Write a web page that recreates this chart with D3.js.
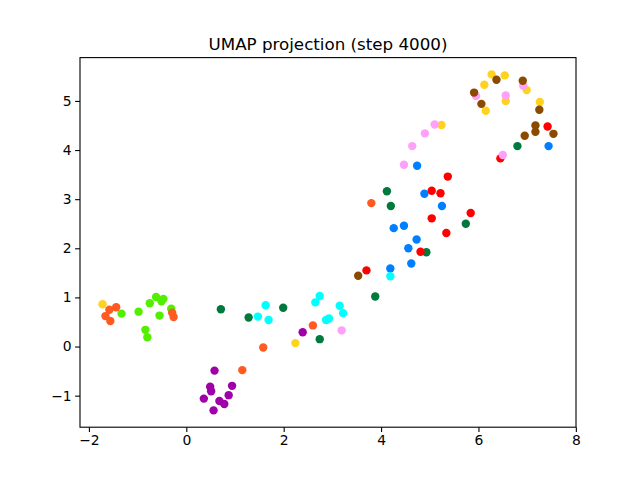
<!DOCTYPE html>
<html>
<head>
<script src="https://cdn.jsdelivr.net/npm/d3@7/dist/d3.min.js"></script>
<style>
body{margin:0;background:white;}
text{font-family:"DejaVu Sans",sans-serif;}
</style>
</head>
<body>
<div id="chart"></div>
<script>
// points per class: [x, y]
var yellow = [[-1.72,0.86],[2.24,0.07],[5.24,4.51],[6.15,4.80],[6.27,5.54],[6.54,5.52],[6.12,5.33],[6.99,5.22],[6.56,5.00],[7.26,4.98]]
var green = [[-1.33,0.67],[-0.98,0.71],[-0.75,0.88],[-0.62,1.01],[-0.47,0.97],[-0.51,0.92],[-0.55,0.63],[-0.31,0.77],[-0.84,0.34],[-0.80,0.19]]
var orange = [[-1.58,0.75],[-1.44,0.80],[-1.66,0.62],[-1.56,0.52],[-0.29,0.69],[-0.26,0.60],[2.60,0.43],[1.58,-0.02],[1.15,-0.48],[3.80,2.92]]
var darkgreen = [[0.71,0.76],[1.28,0.59],[1.99,0.79],[2.74,0.15],[4.12,3.16],[4.20,2.86],[4.93,1.92],[5.74,2.50],[3.88,1.02],[6.80,4.08]]
var blue = [[4.74,3.68],[4.89,3.11],[5.25,2.86],[4.26,2.41],[4.47,2.46],[4.73,2.18],[4.56,2.00],[4.62,1.69],[4.19,1.59],[7.44,4.08]]
var red = [[5.37,3.46],[5.04,3.17],[5.22,3.12],[5.04,2.61],[5.34,2.31],[4.81,1.93],[3.70,1.55],[5.84,2.72],[7.42,4.48],[6.45,3.83]]
var cyan = [[1.63,0.84],[1.47,0.61],[1.69,0.54],[2.74,1.03],[2.65,0.90],[3.15,0.83],[3.22,0.68],[2.87,0.54],[2.93,0.57],[4.19,1.43]]
var purple = [[2.39,0.29],[0.58,-0.49],[0.49,-0.82],[0.51,-0.91],[0.94,-0.80],[0.36,-1.06],[0.87,-0.99],[0.68,-1.11],[0.78,-1.17],[0.56,-1.30]]
var pink = [[3.19,0.33],[4.47,3.70],[4.64,4.08],[4.90,4.34],[5.10,4.52],[6.92,5.31],[5.95,5.10],[6.56,5.11],[6.50,3.90]]
var brown = [[3.53,1.44],[6.06,4.94],[6.37,5.43],[6.91,5.41],[5.91,5.17],[7.25,4.82],[7.17,4.50],[7.17,4.37],[7.54,4.33],[6.95,4.29]]

var groups = [yellow,green,orange,darkgreen,blue,red,cyan,purple,pink,brown]
var colors = ["#ffd21e","#52ef00","#ff5a22","#00793d","#0080ff","#ff0000","#00ffff","#a000aa","#ffa0fa","#8a4a00"]
var xTicks = [-2,0,2,4,6,8]
var yTicks = [-1,0,1,2,3,4,5]
var title = "UMAP projection (step 4000)"

var W = 640, H = 480
var mLeft = 80, mRight = 576, mTop = 57.6, mBottom = 427.2

var all = [].concat.apply([], groups)
var xExt = d3.extent(all, function(d){return d[0]})
var yExt = d3.extent(all, function(d){return d[1]})
var xPad = (xExt[1]-xExt[0])*0.05
var yPad = (yExt[1]-yExt[0])*0.05

var x = d3.scaleLinear().domain([xExt[0]-xPad, xExt[1]+xPad]).range([mLeft,mRight])
var y = d3.scaleLinear().domain([yExt[0]-yPad, yExt[1]+yPad]).range([mBottom,mTop])

var svg = d3.select("#chart").append("svg")
.attr("width",W)
.attr("height",H)

groups.forEach(function(g,i){
svg.append("g").selectAll("circle")
.data(g)
.enter()
.append("circle")
.attr("cx",function(d){return x(d[0])})
.attr("cy",function(d){return y(d[1])})
.attr("r",4.2)
.attr("fill",colors[i])
})

var fmt = function(d){return d<0 ? "\u2212"+Math.abs(d) : d}

svg.append("g")
.attr("transform","translate(0,"+mBottom+")")
.call(d3.axisBottom(x).tickValues(xTicks).tickFormat(fmt).tickSizeInner(4.9).tickSizeOuter(0).tickPadding(3.5))
svg.append("g")
.attr("transform","translate("+mLeft+",0)")
.call(d3.axisLeft(y).tickValues(yTicks).tickFormat(fmt).tickSizeInner(4.9).tickSizeOuter(0).tickPadding(3.5))

svg.selectAll(".domain").remove()
svg.selectAll(".tick line").attr("stroke","black").attr("stroke-width",1.1)
svg.selectAll(".tick text")
.attr("fill","black")
.attr("font-size",13.9)
.style("font-family","DejaVu Sans, sans-serif")

// frame
svg.append("rect")
.attr("x",mLeft)
.attr("y",mTop)
.attr("width",mRight-mLeft)
.attr("height",mBottom-mTop)
.attr("fill","none")
.attr("stroke","black")
.attr("stroke-width",1.1)

svg.append("text")
.attr("x",(mLeft+mRight)/2)
.attr("y",49.5)
.attr("text-anchor","middle")
.attr("font-size",16.7)
.attr("fill","black")
.text(title)
</script>
</body>
</html>
